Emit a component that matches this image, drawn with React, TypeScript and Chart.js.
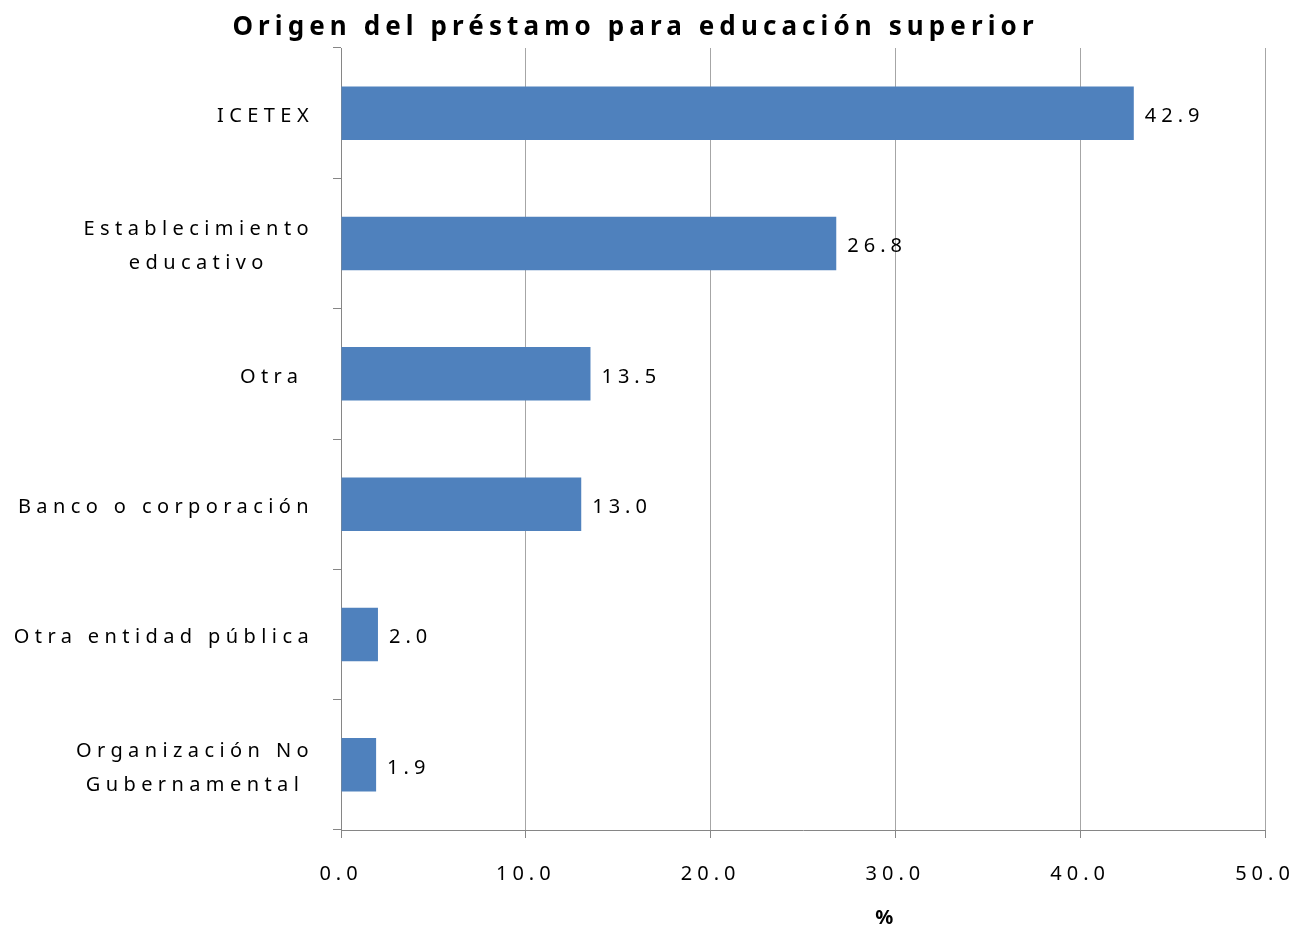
import React, { useEffect, useRef } from "react";
import { Chart, registerables } from "chart.js";

Chart.register(...registerables);

const TITLE = "Origen del préstamo para educación superior";
const AXIS_TITLE = "%";
const categories: string[][] = [
  ["ICETEX"],
  ["Establecimiento", "educativo"],
  ["Otra "],
  ["Banco o corporación"],
  ["Otra entidad pública"],
  ["Organización No", "Gubernamental"],
];
const values: number[] = [42.9, 26.8, 13.5, 13.0, 2.0, 1.9];
const xMin = 0;
const xMax = 50;
const xStep = 10;

const FONT = "'Noto Sans', sans-serif";
const SPACING = "5px";
const LABEL_SPACING = "5.4px";

const customPlugin = {
  id: "customText",
  beforeLayout(chart: any) {
    chart.ctx.letterSpacing = SPACING;
  },
  beforeDraw(chart: any) {
    chart.ctx.letterSpacing = SPACING;
  },
  afterDraw(chart: any) {
    const { ctx, chartArea, scales } = chart;
    const y = scales.y;
    ctx.save();
    ctx.fillStyle = "#000";
    ctx.font = `20px ${FONT}`;
    ctx.letterSpacing = LABEL_SPACING;
    ctx.textBaseline = "middle";
    ctx.textAlign = "center";
    const lh = 34;
    categories.forEach((lines, i) => {
      const cy = y.getPixelForValue(i) + 3;
      const widths = lines.map((l) => ctx.measureText(l).width);
      const maxW = Math.max(...widths);
      const right = chartArea.left - 27;
      lines.forEach((l, j) => {
        ctx.fillText(l, right - maxW / 2, cy + (j - (lines.length - 1) / 2) * lh);
      });
    });
    const meta = chart.getDatasetMeta(0);
    ctx.textAlign = "left";
    ctx.letterSpacing = SPACING;
    meta.data.forEach((bar: any, i: number) => {
      ctx.fillText(values[i].toFixed(1), bar.x + 11, bar.y + 3);
    });
    ctx.textAlign = "center";
    ctx.font = `bold 26px ${FONT}`;
    ctx.letterSpacing = "5.1px";
    ctx.fillText(TITLE, chart.width * 0.49 + 1, 28);
    ctx.font = `bold 20px ${FONT}`;
    ctx.letterSpacing = "0px";
    ctx.fillText(AXIS_TITLE, chartArea.left + chartArea.width * 0.588, 918);
    ctx.restore();
  },
};

export default function App() {
  const ref = useRef<HTMLCanvasElement>(null);
  useEffect(() => {
    if (!ref.current) return;
    const chart = new Chart(ref.current, {
      type: "bar",
      data: {
        labels: categories.map((c) => c.join(" ")),
        datasets: [
          {
            data: values,
            backgroundColor: "#4F81BD",
            borderWidth: 0,
            barPercentage: 0.41,
            categoryPercentage: 1,
          },
        ],
      },
      options: {
        indexAxis: "y",
        responsive: false,
        animation: false,
        layout: { padding: { top: 48, right: 30, left: 0, bottom: 0 } },
        plugins: {
          legend: { display: false },
          title: { display: false },
          tooltip: { enabled: false },
        },
        scales: {
          x: {
            min: xMin,
            max: xMax,
            ticks: {
              stepSize: xStep,
              callback: (v: any) => Number(v).toFixed(1),
              font: { family: FONT, size: 20 },
              color: "#000",
              padding: 24,
              maxRotation: 0,
            },
            grid: {
              color: "#a6a6a6",
              lineWidth: 1,
              tickLength: 8,
              tickColor: "#868686",
            },
            border: { color: "#868686", width: 1 },
            afterFit: (scale: any) => {
              scale.height = 100;
              scale.paddingLeft = 0;
              scale.paddingRight = 0;
            },
          },
          y: {
            ticks: { display: false },
            grid: {
              drawOnChartArea: false,
              drawTicks: true,
              tickLength: 8,
              color: "#868686",
              offset: true,
            },
            border: { color: "#868686", width: 1 },
            afterFit: (scale: any) => {
              scale.width = 341;
              scale.paddingTop = 0;
              scale.paddingBottom = 0;
            },
          },
        },
      },
      plugins: [customPlugin],
    } as any);
    return () => chart.destroy();
  }, []);
  return (
    <div style={{ position: "absolute", left: 0, top: 0, width: 1295, height: 930, background: "#fff" }}>
      <canvas ref={ref} width={1295} height={930} style={{ width: 1295, height: 930 }} />
    </div>
  );
}
